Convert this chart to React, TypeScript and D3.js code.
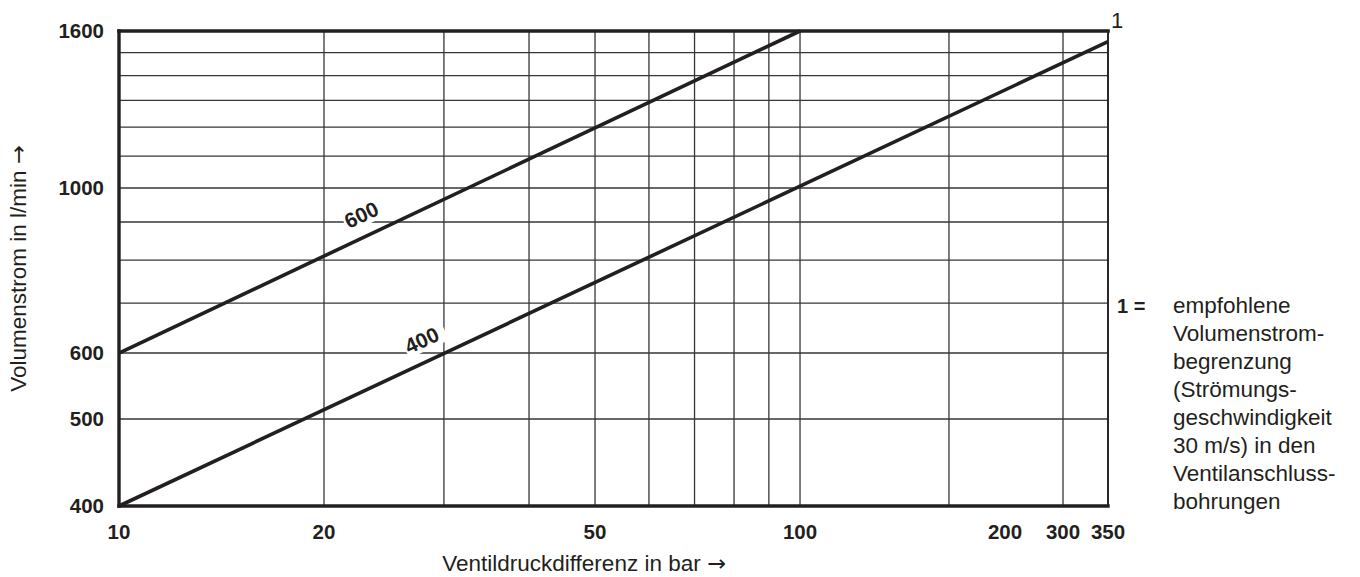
import React from 'react';
import * as d3 from 'd3';

// ---- data ----
const xGridValues = [10, 20, 30, 40, 50, 60, 70, 80, 90, 100, 200, 300, 350];
const xTickLabels = [10, 20, 50, 100, 200, 300, 350];
const yGridValues = [400, 500, 600, 700, 800, 900, 1000, 1100, 1200, 1300, 1400, 1500, 1600];
const yTickLabels = [400, 500, 600, 1000, 1600];
// the printed scale is piecewise-logarithmic between these stops
const xScaleStops = [10, 100, 200, 300, 350];
const yScaleStops = [400, 500, 600, 1000, 1600];
const curve600 = [{ x: 10, y: 600 }, { x: 100, y: 1600 }];
const curve400 = [{ x: 10, y: 400 }, { x: 350, y: 1550 }];
const curveLabels = [
  { text: '600', at: 23.4 },
  { text: '400', at: 28.7 },
];
const limitValue = 1600;
const limitLabel = '1';
const legendKey = '1 =';
const legendLines = [
  'empfohlene',
  'Volumenstrom-',
  'begrenzung',
  '(Strömungs-',
  'geschwindigkeit',
  '30 m/s) in den',
  'Ventilanschluss-',
  'bohrungen',
];
const xTitle = 'Ventildruckdifferenz in bar';
const yTitle = 'Volumenstrom in l/min';
const arrow = '\u2192';

// ---- layout ----
const W = 1360;
const H = 577;
const M = { left: 119, right: 1108, top: 31, bottom: 506 };
const xFrac = [0, 0.6886, 0.8392, 0.9545, 1];
const yFrac = [0, 0.1832, 0.3221, 0.6695, 1];
const INK = '#231f20';
const GRID = '#363636';
const numFont = "'Liberation Sans Narrow', 'Liberation Sans', Arial, sans-serif";
const textFont = "'Liberation Sans', Arial, Helvetica, sans-serif";
const arrowFont = "'DejaVu Sans', sans-serif";

export default function App() {
  const x = d3
    .scaleLog()
    .domain(xScaleStops)
    .range(xFrac.map((f) => M.left + f * (M.right - M.left)));
  const y = d3
    .scaleLog()
    .domain(yScaleStops)
    .range(yFrac.map((f) => M.bottom - f * (M.bottom - M.top)));
  const decade = x(100) - x(10);
  const xLabelPos = d3
    .scaleLog()
    .domain(xScaleStops)
    .range([x(10), x(100), x(100) + decade * Math.log10(2), x(300), x(350)]);

  const line = d3
    .line<{ x: number; y: number }>()
    .x((d) => x(d.x))
    .y((d) => y(d.y));

  const curves = [curve600, curve400];

  const labelGeom = (pts: { x: number; y: number }[], at: number) => {
    const x0 = x(pts[0].x), y0 = y(pts[0].y);
    const x1 = x(pts[1].x), y1 = y(pts[1].y);
    const px = x(at);
    const py = y0 + ((px - x0) / (x1 - x0)) * (y1 - y0);
    const ang = (Math.atan2(y1 - y0, x1 - x0) * 180) / Math.PI;
    return { px, py, ang };
  };

  const legendX = 1173;
  const legendY0 = 313;
  const legendDy = 28;

  return (
    <svg
      width={W}
      height={H}
      viewBox={`0 0 ${W} ${H}`}
      style={{ position: 'absolute', left: 0, top: 0, display: 'block', background: '#fff' }}
    >
      {/* grid */}
      <g stroke={GRID} strokeWidth={1.3} fill="none">
        {xGridValues.map((v) => (
          <line key={'gx' + v} x1={x(v)} x2={x(v)} y1={y(1600)} y2={y(400)} />
        ))}
        {yGridValues.map((v) => (
          <line key={'gy' + v} x1={x(10)} x2={x(350)} y1={y(v)} y2={y(v)} />
        ))}
      </g>
      {/* frame */}
      <g stroke={INK} fill="none" strokeLinecap="square">
        <line x1={x(350)} x2={x(350)} y1={y(1600)} y2={y(400)} strokeWidth={1.8} />
        <line x1={x(10)} x2={x(10)} y1={y(1600)} y2={y(400)} strokeWidth={3.4} />
        <line x1={x(10)} x2={x(350)} y1={y(400)} y2={y(400)} strokeWidth={3.4} />
        <line x1={x(10)} x2={x(350)} y1={y(limitValue)} y2={y(limitValue)} strokeWidth={3.6} />
      </g>
      {/* curve labels with white backing */}
      {curveLabels.map((lab, i) => {
        const g = labelGeom(curves[i], lab.at);
        return (
          <g key={'cl' + i} transform={`translate(${g.px},${g.py}) rotate(${g.ang})`}>
            <rect x={-19} y={-30} width={44} height={20} fill="#fff" />
            <text
              x={0}
              y={-14}
              textAnchor="middle"
              fontFamily={numFont}
              fontWeight="bold"
              fontSize={21}
              fill={INK}
            >
              {lab.text}
            </text>
          </g>
        );
      })}
      {/* curves */}
      {curves.map((c, i) => (
        <path key={'c' + i} d={line(c) || ''} stroke={INK} strokeWidth={3.6} fill="none" strokeLinecap="butt" />
      ))}
      {/* y tick labels */}
      {yTickLabels.map((v) => (
        <text
          key={'yl' + v}
          x={M.left - 15}
          y={y(v)}
          dy="0.36em"
          textAnchor="end"
          fontFamily={numFont}
          fontWeight="bold"
          fontSize={20.5}
          fill={INK}
        >
          {v}
        </text>
      ))}
      {/* x tick labels */}
      {xTickLabels.map((v) => (
        <text
          key={'xl' + v}
          x={xLabelPos(v)}
          y={539}
          textAnchor="middle"
          fontFamily={numFont}
          fontWeight="bold"
          fontSize={20.5}
          fill={INK}
        >
          {v}
        </text>
      ))}
      {/* limit label */}
      <text x={x(350) + 3} y={28} fontFamily={textFont} fontSize={22} fill={INK}>
        {limitLabel}
      </text>
      {/* axis titles */}
      <text x={584} y={571} textAnchor="middle" fontFamily={textFont} fontSize={22.5} fill={INK}>
        {xTitle + ' '}
        <tspan fontFamily={arrowFont}>{arrow}</tspan>
      </text>
      <text
        transform={`translate(26,${(M.top + M.bottom) / 2}) rotate(-90)`}
        textAnchor="middle"
        fontFamily={textFont}
        fontSize={22.5}
        fill={INK}
      >
        {yTitle + ' '}
        <tspan fontFamily={arrowFont}>{arrow}</tspan>
      </text>
      {/* legend */}
      <text x={1117} y={legendY0} fontFamily={textFont} fontWeight="bold" fontSize={20} fill={INK}>
        {legendKey}
      </text>
      {legendLines.map((t, i) => (
        <text key={'lg' + i} x={legendX} y={legendY0 + i * legendDy} fontFamily={textFont} fontSize={22.5} fill={INK}>
          {t}
        </text>
      ))}
    </svg>
  );
}
